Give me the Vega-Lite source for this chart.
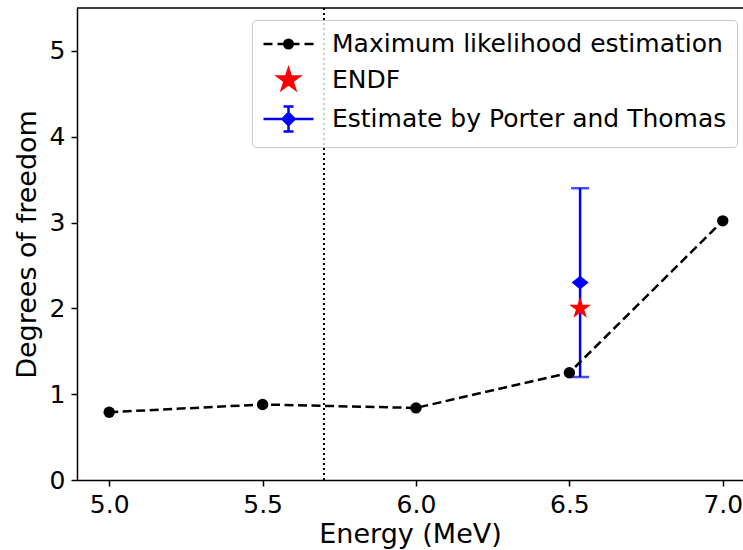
{
  "$schema": "https://vega.github.io/schema/vega-lite/v6.json",
  "width": 666,
  "height": 472,
  "autosize": {"type": "none"},
  "padding": {"left": 77, "top": 8, "right": 0, "bottom": 70},
  "background": "white",
  "config": {
    "view": {"stroke": null},
    "font": "DejaVu Sans",
    "axis": {
      "grid": false,
      "domainColor": "black",
      "domainWidth": 1.5,
      "tickColor": "black",
      "tickWidth": 1.5,
      "tickSize": 6,
      "labelFont": "DejaVu Sans",
      "labelFontSize": 25,
      "labelColor": "black",
      "labelPadding": 6,
      "titleFont": "DejaVu Sans",
      "titleFontSize": 27,
      "titleFontWeight": "normal",
      "titleColor": "black"
    },
    "legend": {
      "orient": "none",
      "legendX": 175,
      "legendY": 12,
      "padding": 10,
      "cornerRadius": 4,
      "strokeColor": "#cccccc",
      "fillColor": "rgba(255,255,255,0.8)",
      "labelFont": "DejaVu Sans",
      "labelFontSize": 25,
      "labelColor": "black",
      "labelLimit": 0,
      "labelOffset": 42,
      "symbolSize": 625,
      "symbolStrokeWidth": 2.5,
      "symbolOpacity": 1,
      "rowPadding": 7
    }
  },
  "datasets": {
    "mle": [
      {"energy": 5.0, "dof": 0.79},
      {"energy": 5.5, "dof": 0.88},
      {"energy": 6.0, "dof": 0.84},
      {"energy": 6.5, "dof": 1.25},
      {"energy": 7.0, "dof": 3.02}
    ],
    "endf": [{"energy": 6.535, "dof": 2.0}],
    "pt": [{"energy": 6.535, "dof": 2.3, "low": 1.2, "high": 3.4}],
    "caps": [{"energy": 6.535, "dof": 1.2}, {"energy": 6.535, "dof": 3.4}],
    "vline": [{"energy": 5.7}],
    "topline": [{"dof": 5.5}],
    "legend": [
      {"energy": 6.0, "dof": 0.84, "series": "Maximum likelihood estimation"},
      {"energy": 6.535, "dof": 2.0, "series": "ENDF"},
      {"energy": 6.535, "dof": 2.3, "series": "Estimate by Porter and Thomas"}
    ]
  },
  "layer": [
    {
      "data": {"name": "vline"},
      "mark": {"type": "rule", "color": "black", "strokeWidth": 2, "strokeDash": [2, 3]},
      "encoding": {
        "x": {"field": "energy", "type": "quantitative",
              "scale": {"domain": [4.895, 7.066], "nice": false, "zero": false},
              "axis": {"title": "Energy (MeV)", "values": [5.0, 5.5, 6.0, 6.5, 7.0], "format": ".1f"}}
      }
    },
    {
      "data": {"name": "topline"},
      "mark": {"type": "rule", "color": "black", "strokeWidth": 1.5},
      "encoding": {
        "y": {"field": "dof", "type": "quantitative",
              "scale": {"domain": [0, 5.5], "nice": false},
              "axis": {"title": "Degrees of freedom", "values": [0, 1, 2, 3, 4, 5], "format": ".0f", "titlePadding": 8}}
      }
    },
    {
      "data": {"name": "pt"},
      "mark": {"type": "rule", "color": "#0000ff", "strokeWidth": 2.5},
      "encoding": {
        "x": {"field": "energy", "type": "quantitative"},
        "y": {"field": "low", "type": "quantitative"},
        "y2": {"field": "high"}
      }
    },
    {
      "data": {"name": "caps"},
      "mark": {"type": "tick", "orient": "horizontal", "color": "#0000ff", "size": 18, "thickness": 2.5},
      "encoding": {
        "x": {"field": "energy", "type": "quantitative"},
        "y": {"field": "dof", "type": "quantitative"}
      }
    },
    {
      "data": {"name": "pt"},
      "mark": {"type": "point", "filled": true, "opacity": 1, "color": "#0000ff", "shape": "M0,-0.8L1,0L0,0.8L-1,0Z", "size": 289},
      "encoding": {
        "x": {"field": "energy", "type": "quantitative"},
        "y": {"field": "dof", "type": "quantitative"}
      }
    },
    {
      "data": {"name": "mle"},
      "mark": {"type": "line", "color": "black", "strokeWidth": 2.5, "strokeDash": [9, 4.5]},
      "encoding": {
        "x": {"field": "energy", "type": "quantitative"},
        "y": {"field": "dof", "type": "quantitative"}
      }
    },
    {
      "data": {"name": "mle"},
      "mark": {"type": "point", "filled": true, "opacity": 1, "color": "black", "shape": "circle", "size": 130},
      "encoding": {
        "x": {"field": "energy", "type": "quantitative"},
        "y": {"field": "dof", "type": "quantitative"}
      }
    },
    {
      "data": {"name": "endf"},
      "mark": {"type": "point", "filled": true, "opacity": 1, "color": "#ff0000",
               "shape": "M0,-1L0.2245,-0.309L0.9511,-0.309L0.3633,0.118L0.5878,0.809L0,0.382L-0.5878,0.809L-0.3633,0.118L-0.9511,-0.309L-0.2245,-0.309Z",
               "size": 530},
      "encoding": {
        "x": {"field": "energy", "type": "quantitative"},
        "y": {"field": "dof", "type": "quantitative"}
      }
    },
    {
      "data": {"name": "legend"},
      "mark": {"type": "point", "opacity": 0, "strokeWidth": 2.5},
      "encoding": {
        "x": {"field": "energy", "type": "quantitative"},
        "y": {"field": "dof", "type": "quantitative"},
        "fill": {"field": "series", "type": "nominal",
                 "scale": {"domain": ["Maximum likelihood estimation", "ENDF", "Estimate by Porter and Thomas"],
                           "range": ["black", "#ff0000", "#0000ff"]},
                 "legend": {"title": null}},
        "stroke": {"field": "series", "type": "nominal",
                   "scale": {"domain": ["Maximum likelihood estimation", "ENDF", "Estimate by Porter and Thomas"],
                             "range": ["black", "#ff0000", "#0000ff"]},
                   "legend": {"title": null}},
        "shape": {"field": "series", "type": "nominal",
                  "scale": {"domain": ["Maximum likelihood estimation", "ENDF", "Estimate by Porter and Thomas"],
                            "range": [
                              "M-1,0L-0.28,0M0.12,0L0.76,0M1.24,0L1.88,0M2.28,0L3,0M0.66,0A0.34,0.34,0,1,0,1.34,0A0.34,0.34,0,1,0,0.66,0Z",
                              "M1,-0.88L1.1976,-0.272L1.837,-0.272L1.3198,0.1038L1.5172,0.712L1,0.336L0.4828,0.712L0.6802,0.1038L0.163,-0.272L0.8024,-0.272Z",
                              "M-1,0L3,0M1,-1L1,1M0.6,-1L1.4,-1M0.6,1L1.4,1M1,-0.48L1.48,0L1,0.48L0.52,0Z"
                            ]},
                  "legend": {"title": null}}
      }
    }
  ]
}
